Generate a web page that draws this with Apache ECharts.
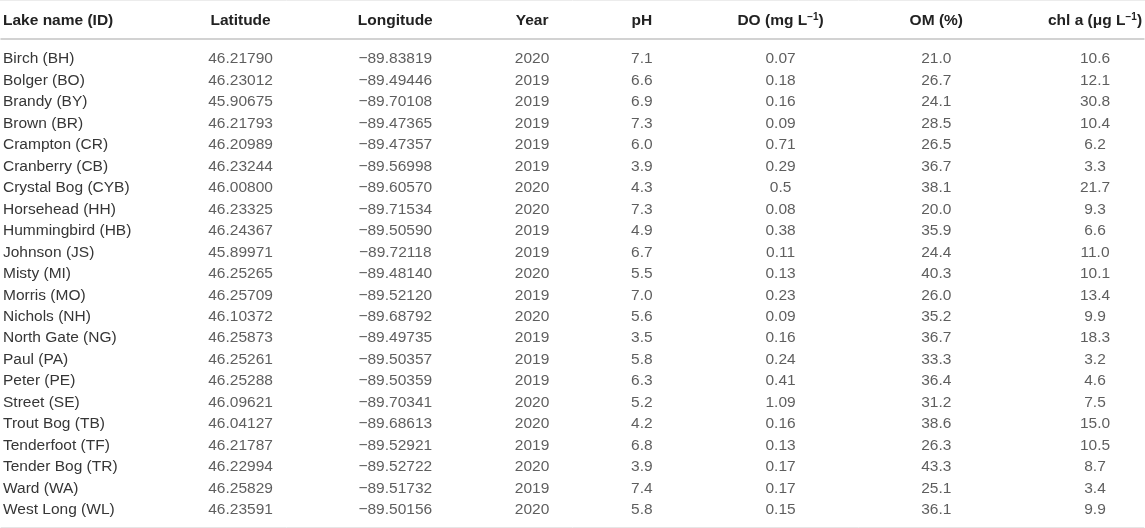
<!DOCTYPE html>
<html>
<head>
<meta charset="utf-8">
<title>Lake table</title>
<script src="https://cdn.jsdelivr.net/npm/echarts@6/dist/echarts.min.js"></script>
<style>
  html, body { margin: 0; padding: 0; background: #fff; }
  #table { width: 1145px; height: 528px; }
</style>
</head>
<body>
<div id="table"></div>
<script>
/* === Data === */
const LAKES = ['Birch (BH)', 'Bolger (BO)', 'Brandy (BY)', 'Brown (BR)', 'Crampton (CR)', 'Cranberry (CB)',
  'Crystal Bog (CYB)', 'Horsehead (HH)', 'Hummingbird (HB)', 'Johnson (JS)', 'Misty (MI)', 'Morris (MO)',
  'Nichols (NH)', 'North Gate (NG)', 'Paul (PA)', 'Peter (PE)', 'Street (SE)', 'Trout Bog (TB)',
  'Tenderfoot (TF)', 'Tender Bog (TR)', 'Ward (WA)', 'West Long (WL)'];
const LATITUDE = [46.21790, 46.23012, 45.90675, 46.21793, 46.20989, 46.23244, 46.00800, 46.23325, 46.24367,
  45.89971, 46.25265, 46.25709, 46.10372, 46.25873, 46.25261, 46.25288, 46.09621, 46.04127, 46.21787,
  46.22994, 46.25829, 46.23591];
const LONGITUDE = [-89.83819, -89.49446, -89.70108, -89.47365, -89.47357, -89.56998, -89.60570, -89.71534,
  -89.50590, -89.72118, -89.48140, -89.52120, -89.68792, -89.49735, -89.50357, -89.50359, -89.70341,
  -89.68613, -89.52921, -89.52722, -89.51732, -89.50156];
const YEAR = [2020, 2019, 2019, 2019, 2019, 2019, 2020, 2020, 2019, 2019, 2020, 2019, 2020, 2019, 2019, 2019,
  2020, 2020, 2019, 2020, 2019, 2020];
const PH = [7.1, 6.6, 6.9, 7.3, 6.0, 3.9, 4.3, 7.3, 4.9, 6.7, 5.5, 7.0, 5.6, 3.5, 5.8, 6.3, 5.2, 4.2, 6.8, 3.9, 7.4, 5.8];
const DO = [0.07, 0.18, 0.16, 0.09, 0.71, 0.29, 0.5, 0.08, 0.38, 0.11, 0.13, 0.23, 0.09, 0.16, 0.24, 0.41,
  1.09, 0.16, 0.13, 0.17, 0.17, 0.15];
const OM = [21.0, 26.7, 24.1, 28.5, 26.5, 36.7, 38.1, 20.0, 35.9, 24.4, 40.3, 26.0, 35.2, 36.7, 33.3, 36.4,
  31.2, 38.6, 26.3, 43.3, 25.1, 36.1];
const CHLA = [10.6, 12.1, 30.8, 10.4, 6.2, 3.3, 21.7, 9.3, 6.6, 11.0, 10.1, 13.4, 9.9, 18.3, 3.2, 4.6, 7.5,
  15.0, 10.5, 8.7, 3.4, 9.9];

const FIRST_HEADER = 'Lake name (ID)';
const HEADERS = ['Latitude', 'Longitude', 'Year', 'pH', 'DO (mg L{sup|\u22121})', 'OM (%)', 'chl a (\u03bcg L{sup|\u22121})'];

/* === Layout (column centres on a 0..1145 pixel axis) === */
const COL_X = [240, 395, 532, 642, 781, 937, 1096];
const FONT = "'Liberation Sans', Arial, Helvetica, sans-serif";
const FS = 15.5;

const fmtMinus = s => s.replace('-', '\u2212');
const COLUMNS = [
  { values: LATITUDE, fmt: v => v.toFixed(5) },
  { values: LONGITUDE, fmt: v => fmtMinus(v.toFixed(5)) },
  { values: YEAR, fmt: v => String(v) },
  { values: PH, fmt: v => v.toFixed(1) },
  { values: DO, fmt: v => String(v) },
  { values: OM, fmt: v => v.toFixed(1) },
  { values: CHLA, fmt: v => v.toFixed(1) }
];

/* === Table === */
function initTable() {
  const el = document.getElementById('table');
  const chart = echarts.init(el);

  const series = COLUMNS.map((col, c) => ({
    type: 'scatter',
    silent: true,
    symbolSize: 1,
    itemStyle: { color: 'transparent' },
    data: col.values.map((v, i) => [COL_X[c], i]),
    label: {
      show: true,
      position: 'inside',
      color: '#363636',
      fontSize: FS,
      fontFamily: FONT,
      formatter: p => col.fmt(col.values[p.dataIndex])
    }
  }));

  chart.setOption({
    animation: false,
    grid: { left: 0, right: 0, top: 48.25, bottom: 7.25 },
    graphic: [{
      type: 'line',
      shape: { x1: 0, y1: 0.5, x2: 1145, y2: 0.5 },
      style: { stroke: '#ececec', lineWidth: 1 }
    }],
    xAxis: [{
      type: 'value',
      position: 'top',
      offset: 9.25,
      min: 0, max: 1145,
      axisLine: { show: true, lineStyle: { color: '#c4c4c4', width: 1.5 } },
      axisTick: { show: false },
      splitLine: { show: false },
      axisLabel: {
        customValues: COL_X,
        margin: 9,
        color: '#222',
        fontSize: FS,
        fontWeight: 'bold',
        fontFamily: FONT,
        lineHeight: 18,
        formatter: v => HEADERS[COL_X.indexOf(v)] || '',
        rich: {
          sup: { fontSize: 10, fontWeight: 'bold', fontFamily: FONT, color: '#222', verticalAlign: 'top', lineHeight: 18 }
        }
      }
    }, {
      type: 'value',
      position: 'bottom',
      offset: 6.25,
      min: 0, max: 1145,
      axisLine: { show: true, lineStyle: { color: '#e6e6e6', width: 1 } },
      axisTick: { show: false },
      splitLine: { show: false },
      axisLabel: { show: false }
    }],
    yAxis: {
      type: 'category',
      inverse: true,
      data: LAKES,
      axisLine: { show: false },
      axisTick: { show: false },
      name: FIRST_HEADER,
      nameLocation: 'start',
      nameGap: 20,
      nameTextStyle: {
        align: 'left', color: '#222', fontSize: FS, fontWeight: 'bold', fontFamily: FONT,
        padding: [0, 0, 0, 2]
      },
      axisLabel: {
        inside: true,
        margin: 2,
        color: '#363636',
        fontSize: FS,
        fontFamily: FONT
      }
    },
    series: series
  });
  window.addEventListener('resize', () => chart.resize());
}

if (document.readyState === 'loading') {
  document.addEventListener('DOMContentLoaded', initTable);
} else {
  initTable();
}
</script>
</body>
</html>
